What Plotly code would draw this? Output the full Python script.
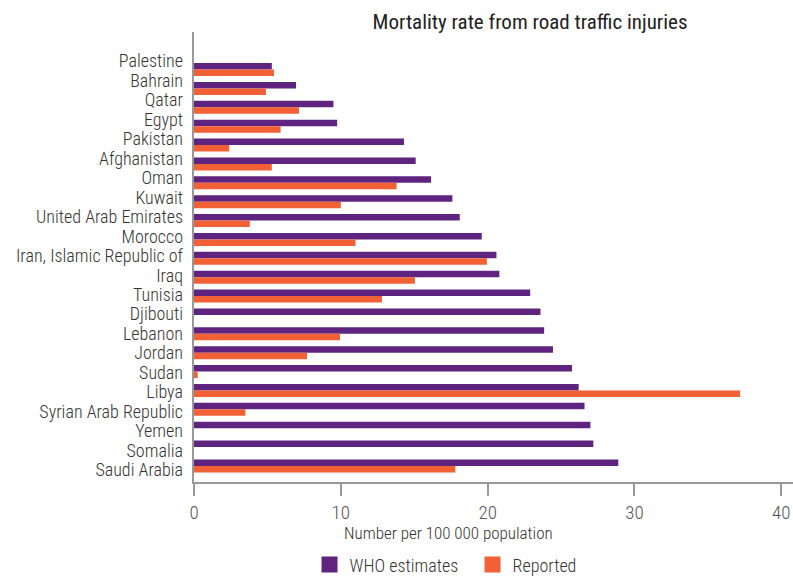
import plotly.graph_objects as go

countries = ["Palestine", "Bahrain", "Qatar", "Egypt", "Pakistan", "Afghanistan", "Oman",
             "Kuwait", "United Arab Emirates", "Morocco", "Iran, Islamic Republic of", "Iraq",
             "Tunisia", "Djibouti", "Lebanon", "Jordan", "Sudan", "Libya",
             "Syrian Arab Republic", "Yemen", "Somalia", "Saudi Arabia"]
who_estimates = [5.3, 6.95, 9.5, 9.75, 14.3, 15.1, 16.15, 17.6, 18.1, 19.6, 20.6, 20.8,
                 22.9, 23.6, 23.85, 24.45, 25.75, 26.2, 26.6, 27.0, 27.2, 28.9]
reported = [5.45, 4.9, 7.15, 5.9, 2.4, 5.3, 13.8, 10.0, 3.8, 11.0, 19.95, 15.05,
            12.8, None, 9.95, 7.7, 0.25, 37.2, 3.5, None, None, 17.8]
series_names = ["WHO estimates", "Reported"]
x_ticks = [0, 10, 20, 30, 40]

FONT = "Roboto Condensed, Liberation Sans Narrow, Roboto, sans-serif"
PURPLE = "#5f2480"
ORANGE = "#f26136"

fig = go.Figure()
for name, vals, col in zip(series_names, [who_estimates, reported], [PURPLE, ORANGE]):
    fig.add_trace(go.Bar(y=countries, x=vals, orientation="h", name=name, showlegend=False,
                         marker=dict(color=col, line=dict(width=0))))
# legend entries with larger square swatches
for name, col in zip(series_names, [PURPLE, ORANGE]):
    fig.add_trace(go.Scatter(x=[None], y=[None], mode="markers", name=name,
                             marker=dict(symbol="square", size=16, color=col)))
# invisible trace carrying the category labels on the label axis
fig.add_trace(go.Scatter(y=countries, x=[0] * len(countries), yaxis="y2", mode="markers",
                         marker=dict(opacity=0), showlegend=False, hoverinfo="skip"))

fig.update_layout(
    width=793, height=576,
    margin=dict(l=194, r=0, t=32, b=94, autoexpand=False),
    paper_bgcolor="white", plot_bgcolor="white",
    barmode="group", bargap=0.31, bargroupgap=0,
    font=dict(family=FONT, color="#333333"),
    title=dict(text="Mortality rate from road traffic injuries", x=0.561, xref="paper",
               xanchor="center", y=1 - 22 / 576, yref="container", yanchor="middle",
               font=dict(size=21, color="#222222", family=FONT)),
    xaxis=dict(range=[0, 40.8], tickvals=x_ticks, showgrid=False, zeroline=False,
               automargin=False,
               showline=True, linecolor="#999999", linewidth=1.5,
               ticks="outside", ticklen=12, tickcolor="#999999", tickwidth=1.5,
               ticklabelstandoff=0,
               tickfont=dict(size=19, color="#555555", family=FONT, weight=300)),
    yaxis=dict(type="category", categoryorder="array", categoryarray=countries,
               range=[21.85, -1.99], showticklabels=False, showgrid=False, zeroline=False,
               automargin=False,
               showline=True, linecolor="#999999", linewidth=1.5, ticks=""),
    yaxis2=dict(type="category", categoryorder="array", categoryarray=countries,
                tickmode="array", tickvals=countries, ticktext=countries,
                overlaying="y", side="left", anchor="x", automargin=False,
                range=[21.62, -1.49], showgrid=False, zeroline=False, showline=False,
                ticks="", ticklabelstandoff=10,
                tickfont=dict(size=18, color="#333333", family=FONT, weight=300)),
    legend=dict(orientation="h", x=0.465, xanchor="center", y=-0.184, yanchor="middle",
                font=dict(size=18, color="#333333", family=FONT, weight=300),
                itemwidth=30, itemsizing="trace", entrywidth=118,
                tracegroupgap=0, traceorder="normal"),
    annotations=[dict(text="Number per 100 000 population", x=0.425, xref="paper",
                      y=-0.113, yref="paper", xanchor="center", yanchor="middle",
                      showarrow=False,
                      font=dict(size=17, color="#333333", family=FONT, weight=300))],
)

fig.write_html("out.html", config={"displayModeBar": False},
               post_script="document.body.style.margin='0';")
